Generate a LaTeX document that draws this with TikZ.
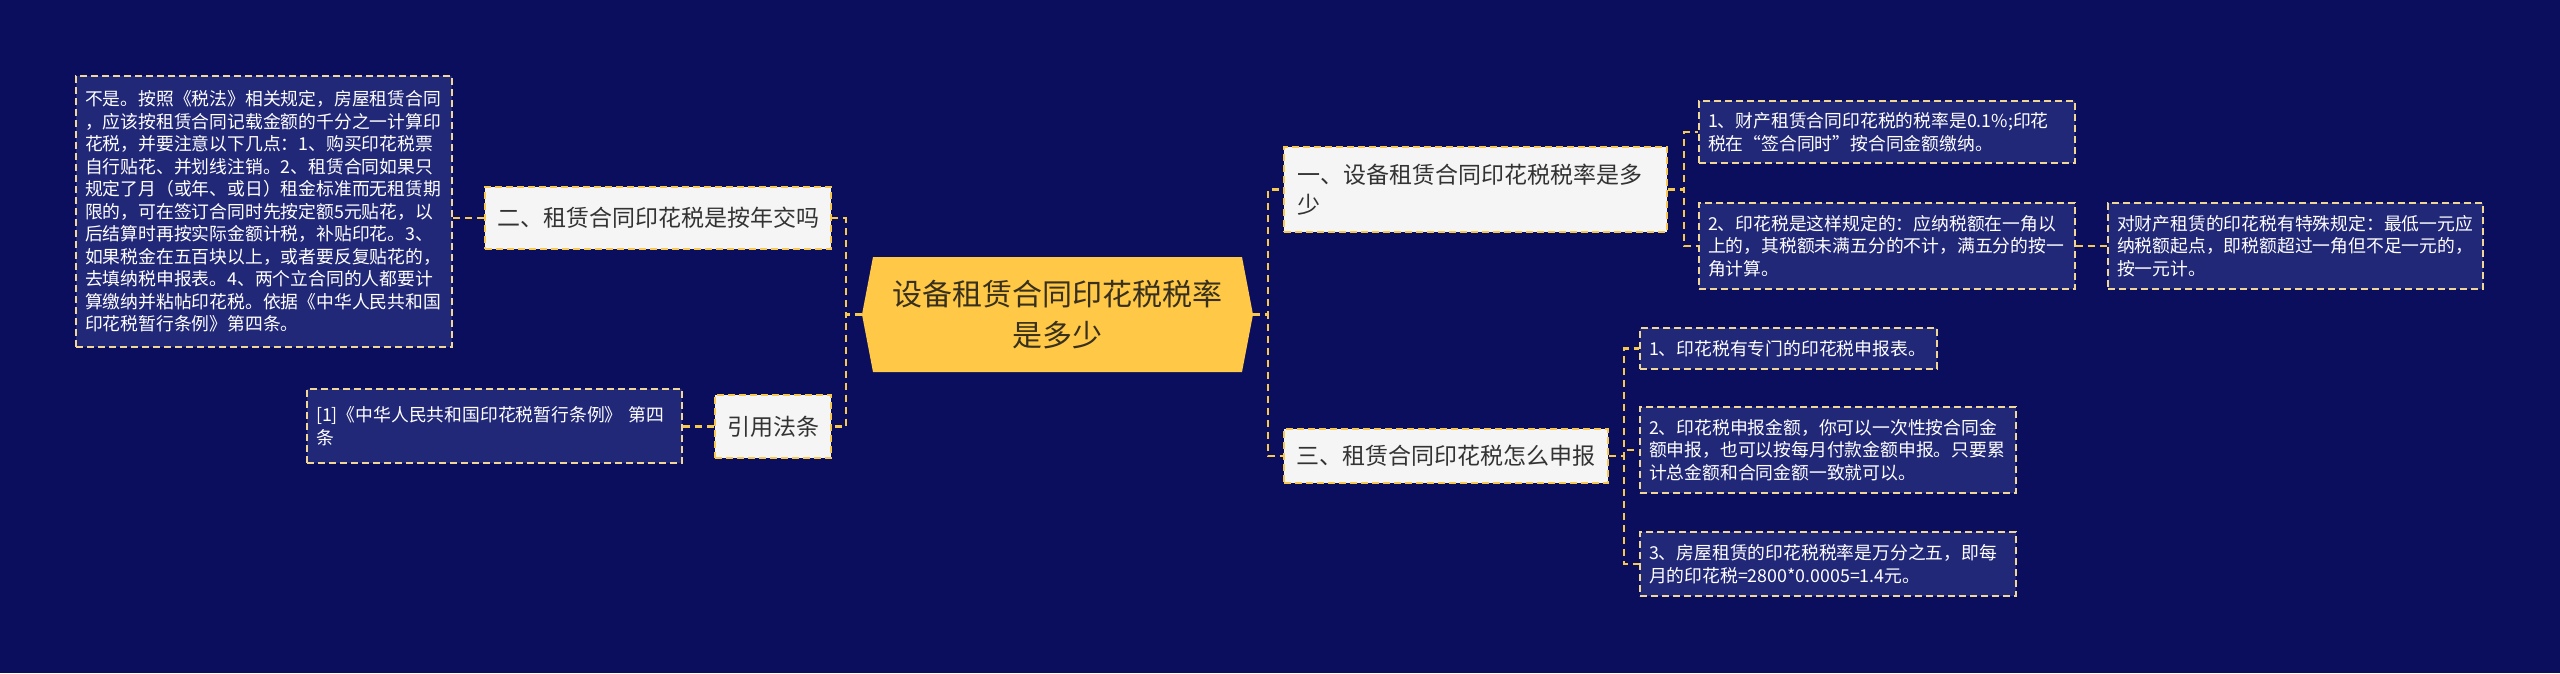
\documentclass[tikz,border=0pt]{standalone}
\usepackage{fontspec}
\setmainfont{Noto Sans CJK SC}
\usetikzlibrary{calc}
\definecolor{bgcol}{RGB}{10,14,92}
\definecolor{linecol}{RGB}{247,200,80}
\definecolor{branchfill}{RGB}{245,245,245}
\definecolor{branchtext}{RGB}{51,51,51}
\definecolor{leaffill}{RGB}{34,40,120}
\definecolor{leafborder}{RGB}{240,215,150}
\definecolor{centerfill}{RGB}{255,200,70}
\definecolor{centertext}{RGB}{55,48,30}
\begin{document}
\begin{tikzpicture}[x=1pt,y=-1pt,
  conn/.style={draw=linecol, line width=2.2pt, dash pattern=on 7pt off 5pt},
  branch/.style={draw=linecol, fill=branchfill, line width=2pt, dash pattern=on 7pt off 4pt,
    text=branchtext, font=\fontsize{23}{30}\selectfont, inner sep=0pt},
  leaf/.style={draw=leafborder, fill=leaffill, line width=1.6pt, dash pattern=on 7pt off 4pt,
    text=white, font=\fontsize{17.8}{22.5}\selectfont, align=left, inner xsep=9pt, inner ysep=0pt},
  centre/.style={minimum width=391pt, minimum height=115pt, inner sep=0pt, align=center,
    text=centertext, font=\fontsize{30}{41}\selectfont,
    path picture={\fill[centerfill] (path picture bounding box.west)
      -- ([xshift=11pt]path picture bounding box.north west)
      -- ([xshift=-11pt]path picture bounding box.north east)
      -- (path picture bounding box.east)
      -- ([xshift=-11pt]path picture bounding box.south east)
      -- ([xshift=11pt]path picture bounding box.south west) -- cycle;}},
]
\fill[bgcol] (0,0) rectangle (2560,673);
\useasboundingbox (0,0) rectangle (2560,673);

% centre
\node[centre] (c) at (1057.5,314.5) {设备租赁合同印花税税率\\是多少};

% left side
\node[branch, minimum width=346pt, minimum height=62pt] (b2) at (658,218) {二、租赁合同印花税是按年交吗};
\node[branch, minimum width=116pt, minimum height=63pt] (cite) at (773,426.5) {引用法条};
\node[leaf, minimum height=271pt, text width=358pt] (l1) at (264,211.5) {不是。按照《税法》相关规定，房屋租赁合同\\，应该按租赁合同记载金额的千分之一计算印\\花税，并要注意以下几点：1、购买印花税票\\自行贴花、并划线注销。2、租赁合同如果只\\规定了月（或年、或日）租金标准而无租赁期\\限的，可在签订合同时先按定额5元贴花，以\\后结算时再按实际金额计税，补贴印花。3、\\如果税金在五百块以上，或者要反复贴花的，\\去填纳税申报表。4、两个立合同的人都要计\\算缴纳并粘帖印花税。依据《中华人民共和国\\印花税暂行条例》第四条。};
\node[leaf, minimum height=74pt, text width=357pt] (ref) at (494.5,426) {[1]《中华人民共和国印花税暂行条例》 第四\\条};

% right side
\node[branch, minimum width=383pt, minimum height=85pt, text width=357pt, align=left, inner xsep=13pt] (r1) at (1475.5,189.5) {一、设备租赁合同印花税税率是多\\少};
\node[branch, minimum width=324pt, minimum height=54pt] (r3) at (1446,456) {三、租赁合同印花税怎么申报};

\node[leaf, minimum height=62pt, text width=358pt] (c11) at (1887,132) {1、财产租赁合同印花税的税率是0.1\%;印花\\税在“签合同时”按合同金额缴纳。};
\node[leaf, minimum height=86pt, text width=358pt] (c12) at (1887,246) {2、印花税是这样规定的：应纳税额在一角以\\上的，其税额未满五分的不计，满五分的按一\\角计算。};
\node[leaf, minimum height=86pt, text width=357pt] (g) at (2295.5,246) {对财产租赁的印花税有特殊规定：最低一元应\\纳税额起点，即税额超过一角但不足一元的，\\按一元计。};

\node[leaf, minimum height=41pt, text width=279pt] (d1) at (1788.5,348.5) {1、印花税有专门的印花税申报表。};
\node[leaf, minimum height=86pt, text width=358pt] (d2) at (1828,450) {2、印花税申报金额，你可以一次性按合同金\\额申报，也可以按每月付款金额申报。只要累\\计总金额和合同金额一致就可以。};
\node[leaf, minimum height=64pt, text width=358pt] (d3) at (1828,564) {3、房屋租赁的印花税税率是万分之五，即每\\月的印花税=2800*0.0005=1.4元。};

% connectors
\draw[conn] (c.west) -- ++(-16,0) |- (b2.east);
\draw[conn] (c.west) -- ++(-16,0) |- (cite.east);
\draw[conn] (b2.west) -- (b2.west -| l1.east);
\draw[conn] (cite.west) -- (cite.west -| ref.east);

\draw[conn] (c.east) -- ++(15,0) |- (r1.west);
\draw[conn] (c.east) -- ++(15,0) |- (r3.west);

\draw[conn] (r1.east) -- ++(16,0) |- (c11.west);
\draw[conn] (r1.east) -- ++(16,0) |- (c12.west);
\draw[conn] (c12.east) -- (g.west);

\draw[conn] (r3.east) -- ++(15,0) |- (d1.west);
\draw[conn] (r3.east) -- ++(15,0) |- (d2.west);
\draw[conn] (r3.east) -- ++(15,0) |- (d3.west);
\end{tikzpicture}
\end{document}
